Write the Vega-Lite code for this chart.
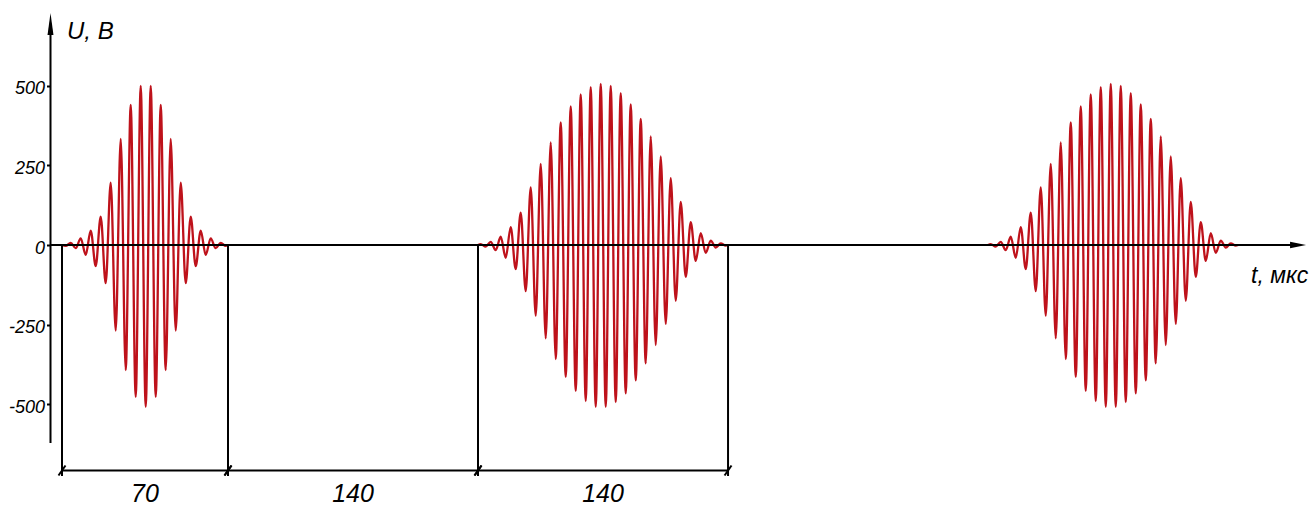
{
  "$schema": "https://vega.github.io/schema/vega-lite/v6.json",
  "width": 1312,
  "height": 506,
  "autosize": "none",
  "padding": 0,
  "background": "white",
  "config": {
    "view": {"stroke": null},
    "axisY": {"labelFont": "Liberation Sans", "labelFontStyle": "italic", "labelFontSize": 18, "labelColor": "black"}
  },
  "resolve": {"axis": {"x": "independent", "y": "independent"}},
  "datasets": {
    "pulses": [
      {"pulse": 1, "t": 0, "u": 0},
      {"pulse": 1, "t": 1.57, "u": -3},
      {"pulse": 1, "t": 3.67, "u": 7},
      {"pulse": 1, "t": 5.78, "u": -10},
      {"pulse": 1, "t": 7.89, "u": 21},
      {"pulse": 1, "t": 10.0, "u": -31},
      {"pulse": 1, "t": 12.11, "u": 45},
      {"pulse": 1, "t": 14.22, "u": -66},
      {"pulse": 1, "t": 16.32, "u": 89},
      {"pulse": 1, "t": 18.43, "u": -120},
      {"pulse": 1, "t": 20.54, "u": 196},
      {"pulse": 1, "t": 22.65, "u": -269},
      {"pulse": 1, "t": 24.76, "u": 333},
      {"pulse": 1, "t": 26.87, "u": -393},
      {"pulse": 1, "t": 28.97, "u": 440},
      {"pulse": 1, "t": 31.08, "u": -477},
      {"pulse": 1, "t": 33.19, "u": 500},
      {"pulse": 1, "t": 35.3, "u": -508},
      {"pulse": 1, "t": 37.41, "u": 500},
      {"pulse": 1, "t": 39.52, "u": -477},
      {"pulse": 1, "t": 41.63, "u": 440},
      {"pulse": 1, "t": 43.73, "u": -393},
      {"pulse": 1, "t": 45.84, "u": 333},
      {"pulse": 1, "t": 47.95, "u": -269},
      {"pulse": 1, "t": 50.06, "u": 196},
      {"pulse": 1, "t": 52.17, "u": -120},
      {"pulse": 1, "t": 54.28, "u": 89},
      {"pulse": 1, "t": 56.38, "u": -66},
      {"pulse": 1, "t": 58.49, "u": 45},
      {"pulse": 1, "t": 60.6, "u": -31},
      {"pulse": 1, "t": 62.71, "u": 21},
      {"pulse": 1, "t": 64.82, "u": -10},
      {"pulse": 1, "t": 66.93, "u": 7},
      {"pulse": 1, "t": 69.03, "u": -3},
      {"pulse": 1, "t": 70, "u": 0},

      {"pulse": 2, "t": 210, "u": 0},
      {"pulse": 2, "t": 211.51, "u": 3},
      {"pulse": 2, "t": 214.31, "u": -5},
      {"pulse": 2, "t": 217.11, "u": 10},
      {"pulse": 2, "t": 219.91, "u": -16},
      {"pulse": 2, "t": 222.71, "u": 26},
      {"pulse": 2, "t": 225.51, "u": -40},
      {"pulse": 2, "t": 228.31, "u": 56},
      {"pulse": 2, "t": 231.11, "u": -76},
      {"pulse": 2, "t": 233.91, "u": 102},
      {"pulse": 2, "t": 236.71, "u": -145},
      {"pulse": 2, "t": 239.51, "u": 181},
      {"pulse": 2, "t": 242.31, "u": -222},
      {"pulse": 2, "t": 245.11, "u": 255},
      {"pulse": 2, "t": 247.91, "u": -293},
      {"pulse": 2, "t": 250.71, "u": 322},
      {"pulse": 2, "t": 253.51, "u": -358},
      {"pulse": 2, "t": 256.31, "u": 385},
      {"pulse": 2, "t": 259.11, "u": -414},
      {"pulse": 2, "t": 261.91, "u": 435},
      {"pulse": 2, "t": 264.71, "u": -458},
      {"pulse": 2, "t": 267.51, "u": 473},
      {"pulse": 2, "t": 270.31, "u": -490},
      {"pulse": 2, "t": 273.11, "u": 496},
      {"pulse": 2, "t": 275.91, "u": -508},
      {"pulse": 2, "t": 278.71, "u": 506},
      {"pulse": 2, "t": 281.51, "u": -508},
      {"pulse": 2, "t": 284.31, "u": 500},
      {"pulse": 2, "t": 287.11, "u": -493},
      {"pulse": 2, "t": 289.91, "u": 477},
      {"pulse": 2, "t": 292.71, "u": -466},
      {"pulse": 2, "t": 295.51, "u": 442},
      {"pulse": 2, "t": 298.31, "u": -425},
      {"pulse": 2, "t": 301.11, "u": 396},
      {"pulse": 2, "t": 303.91, "u": -372},
      {"pulse": 2, "t": 306.71, "u": 341},
      {"pulse": 2, "t": 309.51, "u": -314},
      {"pulse": 2, "t": 312.31, "u": 278},
      {"pulse": 2, "t": 315.11, "u": -248},
      {"pulse": 2, "t": 317.91, "u": 210},
      {"pulse": 2, "t": 320.71, "u": -175},
      {"pulse": 2, "t": 323.51, "u": 135},
      {"pulse": 2, "t": 326.31, "u": -100},
      {"pulse": 2, "t": 329.11, "u": 72},
      {"pulse": 2, "t": 331.91, "u": -50},
      {"pulse": 2, "t": 334.71, "u": 37},
      {"pulse": 2, "t": 337.51, "u": -25},
      {"pulse": 2, "t": 340.31, "u": 14},
      {"pulse": 2, "t": 343.11, "u": -8},
      {"pulse": 2, "t": 345.91, "u": 5},
      {"pulse": 2, "t": 348.71, "u": -2},
      {"pulse": 2, "t": 350, "u": 0},

      {"pulse": 3, "t": 495.6, "u": 0},
      {"pulse": 3, "t": 497.11, "u": 3},
      {"pulse": 3, "t": 499.91, "u": -5},
      {"pulse": 3, "t": 502.71, "u": 10},
      {"pulse": 3, "t": 505.51, "u": -16},
      {"pulse": 3, "t": 508.31, "u": 26},
      {"pulse": 3, "t": 511.11, "u": -40},
      {"pulse": 3, "t": 513.91, "u": 56},
      {"pulse": 3, "t": 516.71, "u": -76},
      {"pulse": 3, "t": 519.51, "u": 102},
      {"pulse": 3, "t": 522.31, "u": -145},
      {"pulse": 3, "t": 525.11, "u": 181},
      {"pulse": 3, "t": 527.91, "u": -222},
      {"pulse": 3, "t": 530.71, "u": 255},
      {"pulse": 3, "t": 533.51, "u": -293},
      {"pulse": 3, "t": 536.31, "u": 322},
      {"pulse": 3, "t": 539.11, "u": -358},
      {"pulse": 3, "t": 541.91, "u": 385},
      {"pulse": 3, "t": 544.71, "u": -414},
      {"pulse": 3, "t": 547.51, "u": 435},
      {"pulse": 3, "t": 550.31, "u": -458},
      {"pulse": 3, "t": 553.11, "u": 473},
      {"pulse": 3, "t": 555.91, "u": -490},
      {"pulse": 3, "t": 558.71, "u": 496},
      {"pulse": 3, "t": 561.51, "u": -508},
      {"pulse": 3, "t": 564.31, "u": 506},
      {"pulse": 3, "t": 567.11, "u": -508},
      {"pulse": 3, "t": 569.91, "u": 500},
      {"pulse": 3, "t": 572.71, "u": -493},
      {"pulse": 3, "t": 575.51, "u": 477},
      {"pulse": 3, "t": 578.31, "u": -466},
      {"pulse": 3, "t": 581.11, "u": 442},
      {"pulse": 3, "t": 583.91, "u": -425},
      {"pulse": 3, "t": 586.71, "u": 396},
      {"pulse": 3, "t": 589.51, "u": -372},
      {"pulse": 3, "t": 592.31, "u": 341},
      {"pulse": 3, "t": 595.11, "u": -314},
      {"pulse": 3, "t": 597.91, "u": 278},
      {"pulse": 3, "t": 600.71, "u": -248},
      {"pulse": 3, "t": 603.51, "u": 210},
      {"pulse": 3, "t": 606.31, "u": -175},
      {"pulse": 3, "t": 609.11, "u": 135},
      {"pulse": 3, "t": 611.91, "u": -100},
      {"pulse": 3, "t": 614.71, "u": 72},
      {"pulse": 3, "t": 617.51, "u": -50},
      {"pulse": 3, "t": 620.31, "u": 37},
      {"pulse": 3, "t": 623.11, "u": -25},
      {"pulse": 3, "t": 625.91, "u": 14},
      {"pulse": 3, "t": 628.71, "u": -8},
      {"pulse": 3, "t": 631.51, "u": 5},
      {"pulse": 3, "t": 634.31, "u": -2},
      {"pulse": 3, "t": 635.6, "u": 0}
    ],
    "spans": [
      {"t0": 0, "t1": 70, "len": 70},
      {"t0": 70, "t1": 210, "len": 140},
      {"t0": 210, "t1": 350, "len": 140}
    ]
  },
  "layer": [
    {
      "data": {"name": "pulses"},
      "mark": {"type": "line", "interpolate": "monotone", "color": "#be121b", "strokeWidth": 2.3},
      "encoding": {
        "x": {
          "field": "t",
          "type": "quantitative",
          "scale": {"domain": [-26.15, 0, 70, 677], "range": [0, 62, 228, 1312], "nice": false, "zero": false},
          "axis": null
        },
        "y": {
          "field": "u",
          "type": "quantitative",
          "scale": {"domain": [-819.7, 769.5], "nice": false, "zero": false},
          "axis": {
            "orient": "left",
            "offset": -50.5,
            "values": [-500, -250, 0, 250, 500],
            "labelExpr": "'' + datum.value",
            "domain": false,
            "grid": false,
            "title": null,
            "tickSize": 4,
            "tickWidth": 2,
            "tickColor": "black",
            "labelPadding": 2,
            "labelOffset": 3,
            "labelFont": "Liberation Sans",
            "labelFontStyle": "italic",
            "labelFontSize": 18,
            "labelColor": "black"
          }
        },
        "detail": {"field": "pulse", "type": "nominal"}
      }
    },
    {
      "data": {"values": [{}]},
      "layer": [
        {
          "mark": {"type": "rule", "color": "black", "strokeWidth": 2},
          "encoding": {
            "x": {"datum": -4.85, "type": "quantitative", "axis": null},
            "x2": {"datum": 669},
            "y": {"datum": 0, "type": "quantitative", "axis": null}
          }
        },
        {
          "mark": {"type": "rule", "color": "black", "strokeWidth": 2},
          "encoding": {
            "x": {"datum": -4.85, "type": "quantitative", "axis": null},
            "y": {"datum": -622, "type": "quantitative", "axis": null},
            "y2": {"datum": 690}
          }
        },
        {
          "mark": {"type": "point", "shape": "M1,0L-1,-0.4L-1,0.4Z", "filled": true, "color": "black", "size": 256, "opacity": 1},
          "encoding": {
            "x": {"datum": 669.2, "type": "quantitative", "axis": null},
            "y": {"datum": 0, "type": "quantitative", "axis": null}
          }
        },
        {
          "mark": {"type": "point", "shape": "M0,-1L-0.27,1L0.27,1Z", "filled": true, "color": "black", "size": 484, "opacity": 1},
          "encoding": {
            "x": {"datum": -4.85, "type": "quantitative", "axis": null},
            "y": {"datum": 694.1, "type": "quantitative", "axis": null}
          }
        },
        {
          "mark": {"type": "text", "text": "U,  В", "font": "Liberation Sans", "fontStyle": "italic", "fontSize": 24, "align": "left", "baseline": "alphabetic", "color": "black"},
          "encoding": {
            "x": {"datum": 2.1, "type": "quantitative", "axis": null},
            "y": {"datum": 646, "type": "quantitative", "axis": null}
          }
        },
        {
          "mark": {"type": "text", "text": "t,  мкс", "font": "Liberation Sans", "fontStyle": "italic", "fontSize": 23, "align": "left", "baseline": "alphabetic", "color": "black"},
          "encoding": {
            "x": {"datum": 642.9, "type": "quantitative", "axis": null},
            "y": {"datum": -120.3, "type": "quantitative", "axis": null}
          }
        }
      ]
    },
    {
      "data": {"name": "spans"},
      "transform": [{"calculate": "(datum.t0 + datum.t1) / 2", "as": "tm"}],
      "layer": [
        {
          "mark": {"type": "rule", "color": "black", "strokeWidth": 2},
          "encoding": {
            "x": {"field": "t0", "type": "quantitative", "axis": null},
            "y": {"datum": 0, "type": "quantitative", "axis": null},
            "y2": {"datum": -725.5}
          }
        },
        {
          "mark": {"type": "rule", "color": "black", "strokeWidth": 2},
          "encoding": {
            "x": {"field": "t1", "type": "quantitative", "axis": null},
            "y": {"datum": 0, "type": "quantitative", "axis": null},
            "y2": {"datum": -725.5}
          }
        },
        {
          "mark": {"type": "rule", "color": "black", "strokeWidth": 2},
          "encoding": {
            "x": {"field": "t0", "type": "quantitative", "axis": null},
            "x2": {"field": "t1"},
            "y": {"datum": -708.2, "type": "quantitative", "axis": null}
          }
        },
        {
          "mark": {"type": "point", "shape": "M-0.7,1L0.7,-1", "filled": false, "color": "black", "strokeWidth": 2, "size": 100, "opacity": 1},
          "encoding": {
            "x": {"field": "t0", "type": "quantitative", "axis": null},
            "y": {"datum": -708.2, "type": "quantitative", "axis": null}
          }
        },
        {
          "mark": {"type": "point", "shape": "M-0.7,1L0.7,-1", "filled": false, "color": "black", "strokeWidth": 2, "size": 100, "opacity": 1},
          "encoding": {
            "x": {"field": "t1", "type": "quantitative", "axis": null},
            "y": {"datum": -708.2, "type": "quantitative", "axis": null}
          }
        },
        {
          "mark": {"type": "text", "font": "Liberation Sans", "fontStyle": "italic", "fontSize": 25, "align": "center", "baseline": "alphabetic", "color": "black"},
          "encoding": {
            "x": {"field": "tm", "type": "quantitative", "axis": null},
            "y": {"datum": -806, "type": "quantitative", "axis": null},
            "text": {"field": "len", "type": "quantitative"}
          }
        }
      ]
    }
  ]
}
